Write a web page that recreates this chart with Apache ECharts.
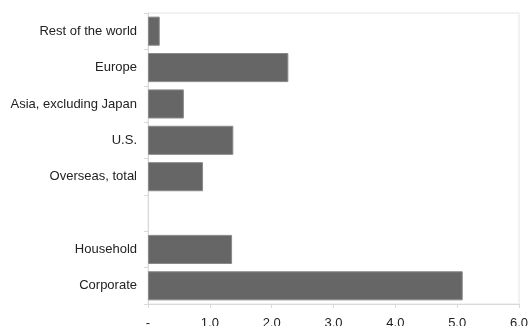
<!DOCTYPE html>
<html>
<head>
<meta charset="utf-8">
<script src="https://cdn.jsdelivr.net/npm/echarts@6/dist/echarts.min.js"></script>
<style>
  html, body { margin: 0; padding: 0; background: #fff; }
  #chart { width: 528px; height: 326px; }
</style>
</head>
<body>
<div id="chart"></div>
<script>
// Categories listed top to bottom; the empty slot separates the two groups.
const categories = [
  'Rest of the world',
  'Europe',
  'Asia, excluding Japan',
  'U.S.',
  'Overseas, total',
  '',
  'Household',
  'Corporate'
];
const values = [0.19, 2.27, 0.58, 1.38, 0.89, null, 1.36, 5.09];
const xTicks = ['-', '1.0', '2.0', '3.0', '4.0', '5.0', '6.0'];

const chart = echarts.init(document.getElementById('chart'));
const font = 'Liberation Sans, Arial, sans-serif';

chart.setOption({
  animation: false,
  grid: {
    left: 148, right: 9, top: 13, bottom: 22,
    outerBoundsMode: 'none',
    containLabel: false,
    show: true, borderColor: '#e4e4e4', borderWidth: 1
  },
  xAxis: {
    type: 'value',
    min: 0, max: 6, interval: 1,
    axisLine: { show: true, lineStyle: { color: '#d9d9d9' } },
    axisTick: { show: true, length: 4, lineStyle: { color: '#d9d9d9' } },
    splitLine: { show: false },
    axisLabel: {
      margin: 12.5,
      color: '#222',
      fontFamily: font,
      fontSize: 13,
      formatter: (v) => xTicks[Math.round(v)]
    }
  },
  yAxis: {
    type: 'category',
    inverse: true,
    data: categories,
    axisLine: { show: true, lineStyle: { color: '#d9d9d9' } },
    axisTick: { show: true, length: 4, alignWithLabel: false, lineStyle: { color: '#d9d9d9' } },
    axisLabel: {
      margin: 11,
      color: '#222',
      fontFamily: font,
      fontSize: 13
    }
  },
  series: [{
    type: 'bar',
    data: values,
    barCategoryGap: '20%',
    itemStyle: { color: '#666666', borderColor: '#8a8a8a', borderWidth: 1 }
  }]
});
</script>
</body>
</html>
